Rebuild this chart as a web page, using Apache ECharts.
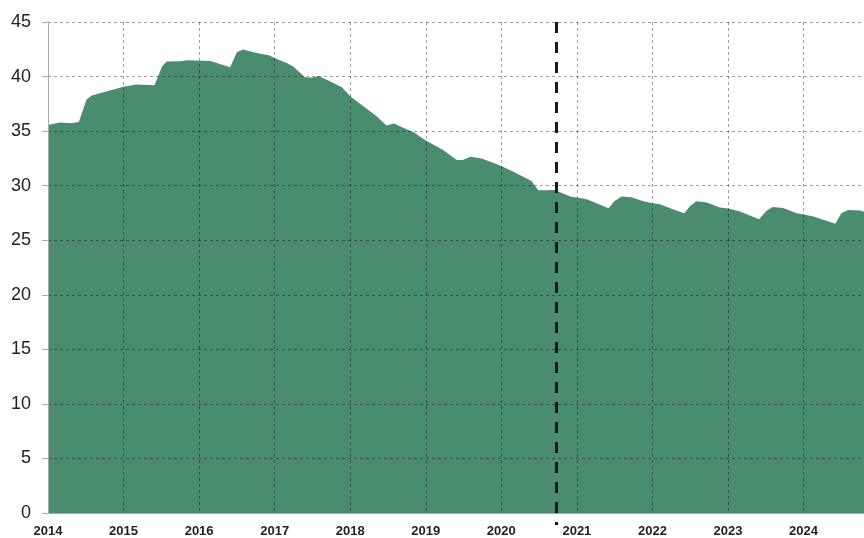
<!DOCTYPE html>
<html>
<head>
<meta charset="utf-8">
<script src="https://cdn.jsdelivr.net/npm/echarts@6/dist/echarts.min.js"></script>
<style>
  html, body { margin: 0; padding: 0; background: #fff; }
  #chart { width: 864px; height: 538px; }
</style>
</head>
<body>
<div id="chart"></div>
<script>
// time positions (fractional year) and values
var years = [
    2014.0, 2014.16, 2014.32, 2014.41, 2014.51, 2014.58, 2014.76, 2015.0, 2015.17, 2015.41,
    2015.51, 2015.57, 2015.75, 2015.84, 2016.15, 2016.41, 2016.5, 2016.58, 2016.76, 2016.92,
    2017.05, 2017.16, 2017.25, 2017.4, 2017.49, 2017.58, 2017.73, 2017.89, 2018.0, 2018.13,
    2018.35, 2018.48, 2018.58, 2018.7, 2018.84, 2019.0, 2019.23, 2019.41, 2019.49, 2019.59,
    2019.74, 2019.89, 2020.0, 2020.18, 2020.4, 2020.43, 2020.49, 2020.6, 2020.71, 2020.77,
    2020.93, 2021.0, 2021.13, 2021.26, 2021.42, 2021.5, 2021.59, 2021.72, 2021.88, 2022.0,
    2022.1, 2022.27, 2022.42, 2022.5, 2022.58, 2022.72, 2022.89, 2023.0, 2023.15, 2023.41,
    2023.51, 2023.59, 2023.73, 2023.91, 2024.0, 2024.13, 2024.42, 2024.5, 2024.59, 2024.75,
    2024.8
];
var values = [
    35.55, 35.8, 35.73, 35.86, 37.9, 38.26, 38.6, 39.06, 39.27, 39.2,
    40.94, 41.37, 41.4, 41.5, 41.43, 40.85, 42.22, 42.47, 42.17, 41.95,
    41.55, 41.25, 40.9, 39.94, 39.88, 40.06, 39.57, 39.02, 38.2, 37.5,
    36.37, 35.52, 35.7, 35.3, 34.9, 34.15, 33.27, 32.35, 32.35, 32.66,
    32.5, 32.1, 31.8, 31.2, 30.43, 30.13, 29.58, 29.58, 29.6, 29.42,
    28.97, 28.91, 28.76, 28.39, 27.93, 28.6, 29.0, 28.94, 28.57, 28.39,
    28.3, 27.84, 27.48, 28.14, 28.57, 28.45, 28.0, 27.9, 27.66, 26.93,
    27.69, 28.05, 27.96, 27.48, 27.36, 27.18, 26.5, 27.48, 27.78, 27.72,
    27.6
];
var yearTicks = [2014, 2015, 2016, 2017, 2018, 2019, 2020, 2021, 2022, 2023, 2024];
// dashed marker, from the top of the axis down into the label strip
var markerYear = 2020.73;
var markerRange = [45, -1.1];

var seriesData = years.map(function (y, i) {
    return [y, values[i]];
});
var markerData = markerRange.map(function (v) {
    return [markerYear, v];
});

var gridLine = {color: 'rgba(0,0,0,0.38)', type: [3, 3], width: 1};

var chart = echarts.init(document.getElementById('chart'), null, {renderer: 'canvas'});
chart.setOption({
    animation: false,
    grid: {left: 48, right: 0, top: 22, bottom: 23},
    xAxis: {
        type: 'value',
        min: 2014,
        max: 2024.8,
        interval: 1,
        axisLine: {show: true, lineStyle: {color: '#aaaaaa', width: 1}},
        axisTick: {show: false},
        axisLabel: {
            margin: 12,
            fontFamily: 'Liberation Sans, Arial',
            fontSize: 13,
            fontWeight: 'bold',
            color: '#222',
            showMaxLabel: false,
            formatter: function (v) {
                var r = Math.round(v);
                return yearTicks.indexOf(r) >= 0 && Math.abs(v - r) < 0.01 ? String(r) : '';
            }
        },
        splitLine: {show: true, lineStyle: gridLine}
    },
    yAxis: {
        type: 'value',
        min: 0,
        max: 45,
        interval: 5,
        axisLine: {show: true, lineStyle: {color: '#aaaaaa', width: 1}},
        axisTick: {show: true, length: 6, lineStyle: {color: '#aaaaaa'}},
        axisLabel: {
            margin: 17,
            fontFamily: 'Liberation Sans, Arial',
            fontSize: 18,
            color: '#222'
        },
        splitLine: {show: true, lineStyle: gridLine}
    },
    series: [{
        type: 'line',
        z: -1,
        data: seriesData,
        symbol: 'none',
        lineStyle: {width: 0},
        areaStyle: {color: '#4a8c6e', opacity: 1}
    }, {
        type: 'line',
        z: 10,
        data: markerData,
        symbol: 'none',
        clip: false,
        silent: true,
        lineStyle: {color: '#1a1a1a', width: 3, type: [11, 9]}
    }]
});
</script>
</body>
</html>
